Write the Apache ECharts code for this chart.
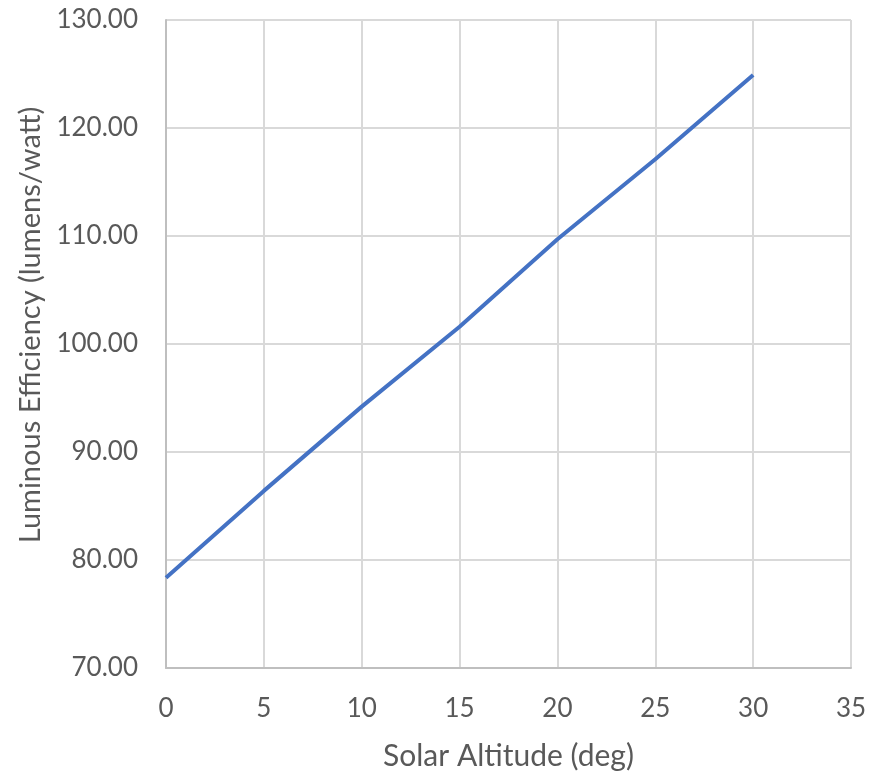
<!DOCTYPE html>
<html>
<head>
<meta charset="utf-8">
<script src="https://cdn.jsdelivr.net/npm/echarts@6/dist/echarts.min.js"></script>
<style>html,body{margin:0;padding:0;background:#fff}#c{width:870px;height:776px}</style>
</head>
<body>
<div id="c"></div>
<script>
const altitude = [0, 5, 10, 15, 20, 25, 30];
const efficiency = [78.36, 86.4, 94.2, 101.6, 109.7, 117.1, 124.9];
const xTicks = [0, 5, 10, 15, 20, 25, 30, 35];
const yTicks = [70, 80, 90, 100, 110, 120, 130];

const chart = echarts.init(document.getElementById('c'), null, {renderer: 'canvas'});
const font = 'Lato, "Open Sans", sans-serif';
chart.setOption({
  animation: false,
  grid: {left: 166, right: 19, top: 20, bottom: 108, containLabel: false},
  xAxis: {
    type: 'value', min: xTicks[0], max: xTicks[xTicks.length - 1], interval: 5,
    name: 'Solar Altitude (deg)', nameLocation: 'middle', nameGap: 73,
    nameTextStyle: {fontFamily: font, fontSize: 30, color: '#595959'},
    axisLine: {lineStyle: {color: '#bfbfbf', width: 2}},
    axisTick: {show: false},
    axisLabel: {fontFamily: font, fontSize: 26, color: '#595959', margin: 28},
    splitLine: {lineStyle: {color: '#d9d9d9', width: 2}}
  },
  yAxis: {
    type: 'value', min: yTicks[0], max: yTicks[yTicks.length - 1], interval: 10,
    name: 'Luminous Efficiency (lumens/watt)', nameLocation: 'middle', nameGap: 121,
    nameTextStyle: {fontFamily: font, fontSize: 29, color: '#595959', padding: [0, 0, 0, 38]},
    axisLine: {show: true, lineStyle: {color: '#bfbfbf', width: 2}},
    axisTick: {show: false},
    axisLabel: {fontFamily: font, fontSize: 26, color: '#595959', margin: 28,
      formatter: v => v.toFixed(2)},
    splitLine: {lineStyle: {color: '#d9d9d9', width: 2}}
  },
  series: [{
    type: 'line',
    data: altitude.map((x, i) => [x, efficiency[i]]),
    showSymbol: false,
    lineStyle: {color: '#4472C4', width: 4},
    itemStyle: {color: '#4472C4'}
  }]
});
</script>
</body>
</html>
